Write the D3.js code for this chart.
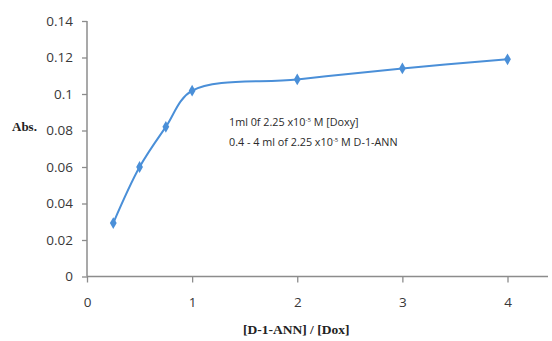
<!DOCTYPE html>
<html><head><meta charset="utf-8">
<script src="https://cdn.jsdelivr.net/npm/d3@7"></script>
<style>body{margin:0;background:#fff}svg{display:block}</style>
</head><body>
<script>
const xValues = [0.25, 0.5, 0.75, 1, 2, 3, 4];
const absValues = [0.0293, 0.060, 0.082, 0.1018, 0.108, 0.114, 0.119];
const yTicks = [0, 0.02, 0.04, 0.06, 0.08, 0.1, 0.12, 0.14];
const yTickLabels = ["0", "0.02", "0.04", "0.06", "0.08", "0.1", "0.12", "0.14"];
const xTicks = [0, 1, 2, 3, 4];
const xTickLabels = ["0", "1", "2", "3", "4"];

const W = 552, H = 341;
const svg = d3.select("body").append("svg").attr("width", W).attr("height", H);
const x = d3.scaleLinear().domain([0, 4]).range([87, 507.5]);
const y = d3.scaleLinear().domain([0, 0.14]).range([276.5, 21]);
const axisColor = "#8c8c8c", textColor = "#383838";
const tickFont = "Open Sans, 'Liberation Sans', sans-serif";

// y axis
const gy = svg.append("g").attr("transform", "translate(87,0)")
  .call(d3.axisLeft(y).tickValues(yTicks).tickFormat((d, i) => yTickLabels[i]).tickSize(5).tickPadding(9));
// x axis
const gx = svg.append("g").attr("transform", "translate(0,276.5)")
  .call(d3.axisBottom(x).tickValues(xTicks).tickFormat((d, i) => xTickLabels[i]).tickSize(6).tickPadding(15));
[gx, gy].forEach(g => {
  g.select(".domain").remove();
  g.selectAll("line").attr("stroke", axisColor).attr("stroke-width", 1.3);
  g.selectAll("text").attr("fill", textColor).style("font-family", tickFont).style("font-size", "13.5px");
});
svg.append("line").attr("x1", 87).attr("x2", 87).attr("y1", y(0.14)).attr("y2", y(0))
  .attr("stroke", axisColor).attr("stroke-width", 1.5);
svg.append("line").attr("x1", 87).attr("x2", 548).attr("y1", y(0)).attr("y2", y(0))
  .attr("stroke", axisColor).attr("stroke-width", 1.5);

// line
const data = xValues.map((v, i) => [v, absValues[i]]);
const lineColor = "#4a8fd8";
svg.append("path").datum(data)
  .attr("d", d3.line().x(d => x(d[0])).y(d => y(d[1])).curve(d3.curveCatmullRom.alpha(0.5)))
  .attr("fill", "none").attr("stroke", lineColor).attr("stroke-width", 2);
svg.selectAll(".mk").data(data).enter().append("path")
  .attr("transform", d => `translate(${x(d[0])},${y(d[1])})`)
  .attr("d", d3.symbol(d3.symbolDiamond, 40))
  .attr("fill", lineColor);

// labels
svg.append("text").attr("x", 12).attr("y", 131).text("Abs.")
  .style("font-family", "'Liberation Serif', 'DejaVu Serif', serif").style("font-weight", "bold")
  .style("font-size", "13px").attr("fill", "#222");
svg.append("text").attr("x", 243).attr("y", 334).text("[D-1-ANN] / [Dox]")
  .style("font-family", "'Liberation Serif', 'DejaVu Serif', serif").style("font-weight", "bold")
  .style("font-size", "13.5px").attr("fill", "#222");

const annFont = "'Open Sans', sans-serif";
const t1 = svg.append("text").attr("x", 229).attr("y", 126).attr("fill", "#2a2a2a")
  .style("font-family", annFont).style("font-size", "10.8px");
t1.append("tspan").text("1ml 0f 2.25 x10");
t1.append("tspan").text("-5").attr("dy", -4).style("font-size", "6px");
t1.append("tspan").text(" M [Doxy]").attr("dy", 4);
const t2 = svg.append("text").attr("x", 229).attr("y", 146).attr("fill", "#2a2a2a")
  .style("font-family", annFont).style("font-size", "10.8px");
t2.append("tspan").text("0.4 - 4 ml of 2.25 x10");
t2.append("tspan").text("-5").attr("dy", -4).style("font-size", "6px");
t2.append("tspan").text(" M D-1-ANN").attr("dy", 4);
</script>
</body></html>
